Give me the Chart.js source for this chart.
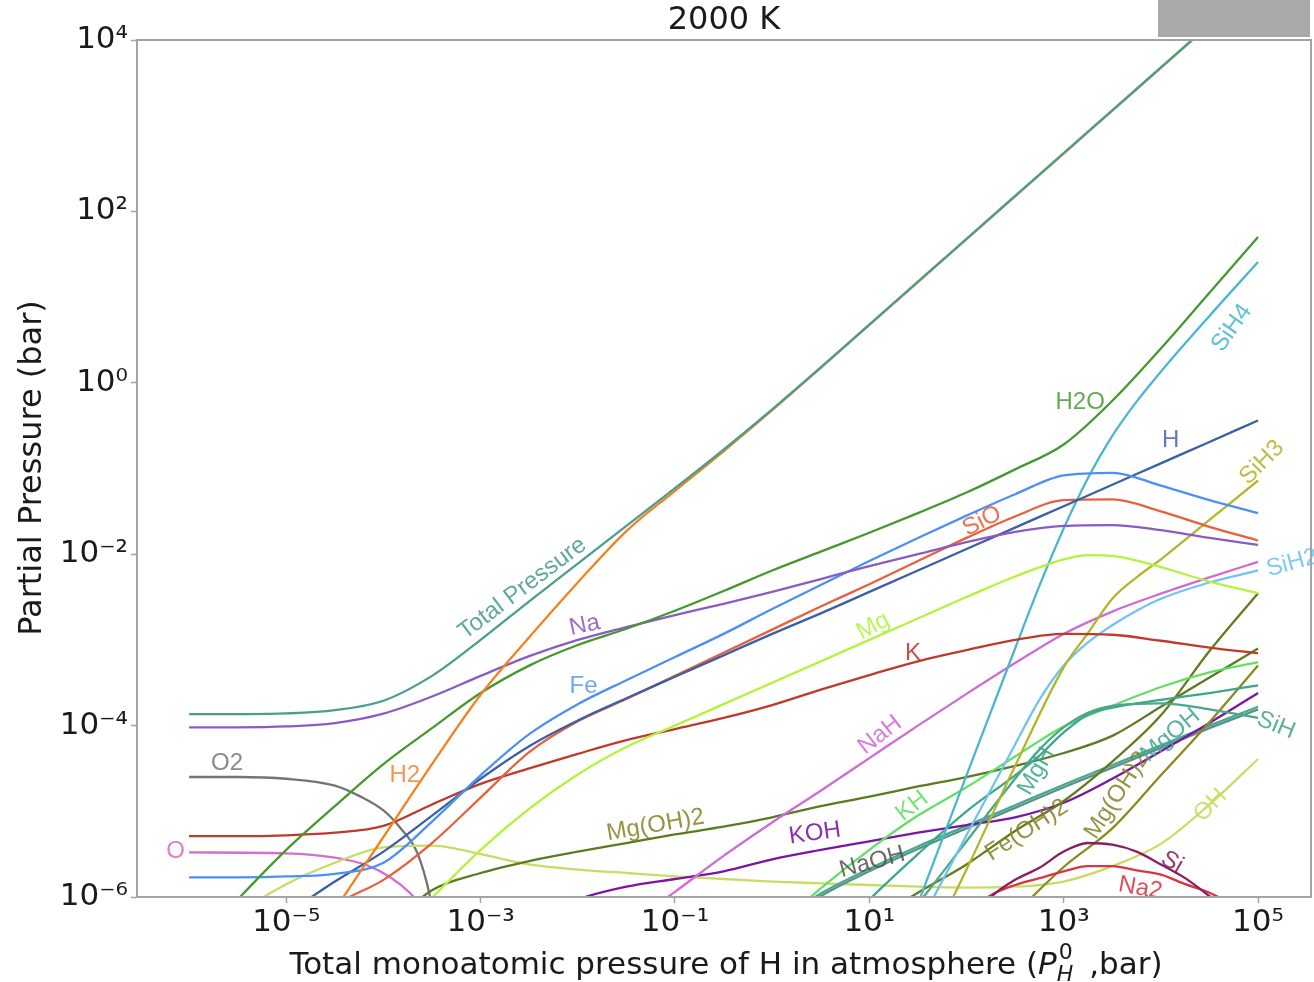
<!DOCTYPE html>
<html>
<head>
<meta charset="utf-8">
<script src="https://cdn.jsdelivr.net/npm/chart.js@4.4.1/dist/chart.umd.min.js"></script>
<style>
  html, body { margin: 0; padding: 0; background: #ffffff; }
  #wrap { width: 1314px; height: 982px; position: relative; }
</style>
</head>
<body>
<div id="wrap"><canvas id="chart" width="1314" height="982"></canvas></div>
<script>
// Gas-phase speciation at 2000 K versus the total monoatomic H pressure.
// Every point is [log10 P_H0 (bar), log10 partial pressure (bar)].
const TOTAL_P = [[-6,-3.867],[-5.5,-3.866],[-5,-3.858],[-4.5,-3.82],[-4,-3.71],[-3.5,-3.42],[-3,-3.0],[-2.5,-2.55],[-2,-2.11],[-1.5,-1.67],[-1,-1.23],[-0.5,-0.78],[0,-0.31],[0.5,0.18],[1,0.68],[1.5,1.18],[2,1.68],[2.5,2.18],[3,2.68],[3.5,3.18],[4,3.68],[4.5,4.18],[5,4.68]];
const H2 = [[-5,-7.0],[-4.5,-6.15],[-4,-5.30],[-3.5,-4.45],[-3,-3.64],[-2.5,-2.97],[-2,-2.33],[-1.5,-1.73],[-1,-1.26],[-0.5,-0.80],[0,-0.32],[0.5,0.175],[1,0.675],[1.5,1.175],[2,1.675],[2.5,2.175],[3,2.675],[3.5,3.175],[4,3.675],[4.5,4.175],[5,4.675]];
const H = [[-5,-6.2],[-4.5,-5.82],[-4,-5.47],[-3.5,-5.05],[-3,-4.62],[-2.5,-4.24],[-2,-3.94],[-1.5,-3.68],[-1,-3.43],[-0.5,-3.18],[0,-2.93],[0.5,-2.69],[1,-2.44],[1.5,-2.19],[2,-1.94],[2.5,-1.69],[3,-1.44],[3.5,-1.19],[4,-0.94],[4.5,-0.69],[5,-0.44]];
const H2O = [[-6,-6.65],[-5.5,-6.03],[-5,-5.45],[-4.5,-4.94],[-4,-4.45],[-3.5,-4.03],[-3,-3.62],[-2.5,-3.30],[-2,-3.06],[-1.5,-2.87],[-1,-2.66],[-0.5,-2.43],[0,-2.19],[0.5,-1.97],[1,-1.75],[1.5,-1.52],[2,-1.28],[2.5,-1.01],[3,-0.72],[3.5,-0.21],[4,0.40],[4.5,1.05],[5,1.70]];
const NA = [[-6,-4.02],[-5.5,-4.02],[-5,-4.01],[-4.5,-3.97],[-4,-3.86],[-3.5,-3.66],[-3,-3.42],[-2.5,-3.19],[-2,-3.00],[-1.5,-2.85],[-1,-2.71],[-0.5,-2.58],[0,-2.44],[0.5,-2.29],[1,-2.14],[1.5,-2.0],[2,-1.86],[2.5,-1.74],[3,-1.67],[3.5,-1.66],[4,-1.72],[4.5,-1.81],[5,-1.89]];
const FE = [[-6,-5.77],[-5.5,-5.77],[-5,-5.76],[-4.5,-5.73],[-4,-5.60],[-3.5,-5.12],[-3,-4.58],[-2.5,-4.10],[-2,-3.75],[-1.5,-3.47],[-1,-3.20],[-0.5,-2.93],[0,-2.64],[0.5,-2.36],[1,-2.08],[1.5,-1.81],[2,-1.55],[2.5,-1.30],[3,-1.08],[3.5,-1.05],[4,-1.20],[4.5,-1.37],[5,-1.52]];
const SIO = [[-5,-6.6],[-4.5,-6.1],[-4,-5.80],[-3.5,-5.37],[-3,-4.84],[-2.5,-4.31],[-2,-3.95],[-1.5,-3.69],[-1,-3.42],[-0.5,-3.15],[0,-2.88],[0.5,-2.61],[1,-2.35],[1.5,-2.08],[2,-1.81],[2.5,-1.56],[3,-1.37],[3.5,-1.36],[4,-1.50],[4.5,-1.68],[5,-1.84]];
const MG = [[-4,-6.6],[-3.5,-6.01],[-3,-5.45],[-2.5,-4.97],[-2,-4.57],[-1.5,-4.25],[-1,-4.0],[-0.5,-3.75],[0,-3.50],[0.5,-3.25],[1,-3.0],[1.5,-2.75],[2,-2.50],[2.5,-2.26],[3,-2.06],[3.25,-2.01],[3.5,-2.02],[4,-2.15],[4.5,-2.32],[5,-2.455]];
const K = [[-6,-5.29],[-5.5,-5.29],[-5,-5.28],[-4.5,-5.25],[-4,-5.17],[-3.5,-4.92],[-3,-4.68],[-2.5,-4.50],[-2,-4.33],[-1.5,-4.17],[-1,-4.04],[-0.5,-3.91],[0,-3.76],[0.5,-3.58],[1,-3.41],[1.5,-3.25],[2,-3.12],[2.5,-3.00],[3,-2.93],[3.5,-2.94],[4,-3.01],[4.5,-3.09],[5,-3.155]];
const O2 = [[-6,-4.60],[-5.5,-4.60],[-5,-4.62],[-4.5,-4.70],[-4.25,-4.82],[-4,-4.99],[-3.83,-5.19],[-3.65,-5.49],[-3.52,-6.0],[-3.4,-6.8]];
const O = [[-6,-5.48],[-5,-5.49],[-4.5,-5.54],[-4.17,-5.63],[-3.93,-5.77],[-3.72,-5.96],[-3.5,-6.25]];
const NAH = [[-1.5,-6.35],[-1,-5.94],[-0.5,-5.52],[0,-5.13],[0.5,-4.76],[1,-4.38],[1.5,-4.0],[2,-3.63],[2.5,-3.27],[3,-2.93],[3.5,-2.67],[4,-2.46],[4.5,-2.27],[5,-2.09]];
const SIH4 = [[1,-7.58],[1.5,-6.08],[2,-4.58],[2.5,-3.10],[2.75,-2.37],[3,-1.70],[3.25,-1.11],[3.5,-0.62],[3.75,-0.22],[4,0.13],[4.5,0.78],[5,1.41]];
const SIH3 = [[1.5,-6.85],[2,-5.68],[2.5,-4.47],[3,-3.32],[3.25,-2.92],[3.5,-2.52],[3.75,-2.27],[4,-2.06],[4.5,-1.60],[5,-1.14]];
const SIH2 = [[1.5,-6.35],[2,-5.28],[2.5,-4.22],[2.75,-3.70],[3,-3.30],[3.25,-3.03],[3.5,-2.83],[3.75,-2.66],[4,-2.52],[4.5,-2.33],[5,-2.19]];
const MGOH2_A = [[-4,-6.4],[-3.5,-5.92],[-3,-5.72],[-2.5,-5.58],[-2,-5.47],[-1.5,-5.37],[-1,-5.27],[-0.5,-5.18],[0,-5.07],[0.5,-4.94],[1,-4.83],[1.5,-4.71],[2,-4.60],[2.5,-4.47],[3,-4.32],[3.5,-4.12],[4,-3.78],[4.5,-3.44],[5,-3.10]];
const KOH = [[-2.5,-6.3],[-2,-6.03],[-1.5,-5.88],[-1,-5.79],[-0.5,-5.70],[0,-5.56],[0.5,-5.45],[1,-5.35],[1.5,-5.25],[2,-5.16],[2.5,-5.07],[3,-4.90],[3.5,-4.62],[4,-4.30],[4.5,-3.97],[5,-3.62]];
const KH = [[0,-6.40],[0.5,-5.90],[1,-5.45],[1.5,-5.05],[2,-4.72],[2.5,-4.36],[3,-4.01],[3.5,-3.77],[4,-3.55],[4.5,-3.38],[5,-3.26]];
const MGOH2_B = [[2,-6.8],[2.5,-6.2],[3,-5.65],[3.5,-5.20],[4,-4.58],[4.5,-3.96],[5,-3.30]];
const FEOH2 = [[1,-6.3],[1.5,-5.95],[2,-5.62],[2.5,-5.23],[3,-4.88],[3.5,-4.42],[4,-3.88],[4.5,-3.13],[5,-2.455]];
const OH = [[-6,-6.7],[-5.5,-6.2],[-5,-5.85],[-4.5,-5.6],[-4,-5.42],[-3.5,-5.40],[-3,-5.50],[-2.5,-5.62],[-2,-5.68],[-1.5,-5.72],[-1,-5.76],[-0.5,-5.79],[0,-5.82],[0.5,-5.84],[1,-5.86],[1.5,-5.88],[2,-5.89],[2.5,-5.88],[3,-5.82],[3.5,-5.64],[4,-5.38],[4.5,-4.92],[5,-4.39]];
const SI = [[2,-6.3],[2.25,-6.0],[2.5,-5.8],[2.75,-5.66],[3,-5.47],[3.25,-5.37],[3.5,-5.39],[3.75,-5.47],[4,-5.62],[4.25,-5.78],[4.5,-5.99],[5,-6.45]];
const NA2 = [[2,-6.2],[2.25,-5.98],[2.5,-5.86],[2.75,-5.78],[3,-5.70],[3.25,-5.64],[3.5,-5.64],[3.75,-5.69],[4,-5.74],[4.25,-5.85],[4.5,-5.95],[5,-6.25]];
const MGH = [[0.5,-6.6],[1,-6.03],[1.5,-5.50],[2,-5.0],[2.5,-4.58],[2.75,-4.35],[3,-4.08],[3.25,-3.87],[3.5,-3.79],[4,-3.70],[4.5,-3.62],[5,-3.53]];
const SIH = [[1,-6.75],[1.5,-6.08],[2,-5.35],[2.5,-4.62],[2.75,-4.28],[3,-4.02],[3.25,-3.85],[3.5,-3.77],[4,-3.74],[4.5,-3.81],[5,-3.91]];
const NAOH = [[0,-6.38],[0.5,-5.99],[1,-5.70],[1.5,-5.44],[2,-5.20],[2.5,-4.96],[3,-4.72],[3.5,-4.49],[4,-4.26],[4.5,-4.03],[5,-3.81]];
const MGOH = [[0,-6.35],[0.5,-5.96],[1,-5.67],[1.5,-5.41],[2,-5.17],[2.5,-4.93],[3,-4.69],[3.5,-4.46],[4,-4.23],[4.5,-4.0],[5,-3.78]];

// Decades that carry tick labels
const X_TICK_EXP = [-5, -3, -1, 1, 3, 5];
const Y_TICK_EXP = [-6, -4, -2, 0, 2, 4];

// Species drawn, listed from the topmost line down (Chart.js paints index 0 last)
const SPECIES = [
  { name: 'Total Pressure', data: TOTAL_P, color: '#4a9e8c' },
  { name: 'H2', data: H2, color: '#f2821f' },
  { name: 'H2O', data: H2O, color: '#44992d' },
  { name: 'Na', data: NA, color: '#8a5cc2' },
  { name: 'Fe', data: FE, color: '#4d8ff5' },
  { name: 'H', data: H, color: '#3b5fa6' },
  { name: 'SiO', data: SIO, color: '#e8603e' },
  { name: 'Mg', data: MG, color: '#b2f43c' },
  { name: 'K', data: K, color: '#c0392b' },
  { name: 'SiH4', data: SIH4, color: '#4bb6d0' },
  { name: 'SiH3', data: SIH3, color: '#b4b52b' },
  { name: 'SiH2', data: SIH2, color: '#70c4ee' },
  { name: 'NaH', data: NAH, color: '#cf6ad6' },
  { name: 'Si', data: SI, color: '#8b1e62' },
  { name: 'Na2', data: NA2, color: '#da3443' },
  { name: 'SiH', data: SIH, color: '#4aa888' },
  { name: 'MgH', data: MGH, color: '#3ea68b' },
  { name: 'KH', data: KH, color: '#62e064' },
  { name: 'Fe(OH)2', data: FEOH2, color: '#667a1c' },
  { name: 'Mg(OH)2 ', data: MGOH2_B, color: '#8c8a1c' },
  { name: 'Mg(OH)2', data: MGOH2_A, color: '#5a7b1f' },
  { name: 'KOH', data: KOH, color: '#7a14a6' },
  { name: 'MgOH', data: MGOH, color: '#44a98e' },
  { name: 'NaOH', data: NAOH, color: '#5d8f8a' },
  { name: 'OH', data: OH, color: '#c8dc62' },
  { name: 'O', data: O, color: '#d66fcb' },
  { name: 'O2', data: O2, color: '#747474' }
];

// In-line species labels: anchor in data space (log10 x, log10 y) and text angle in degrees
const LABELS = [
  { text: 'Total Pressure', at: [-2.57, -2.40], rot: -37, color: '#4a9e8c' },
  { text: 'Na', at: [-1.93, -2.83], rot: -12, color: '#8a5cc2' },
  { text: 'Fe', at: [-1.94, -3.54], rot: 0, color: '#5d98f5' },
  { text: 'H2', at: [-3.78, -4.58], rot: 0, color: '#ee8a3a' },
  { text: 'O2', at: [-5.61, -4.44], rot: 0, color: '#7a7a7a' },
  { text: 'O', at: [-6.14, -5.47], rot: 0, color: '#d66fcb' },
  { text: 'SiO', at: [2.16, -1.615], rot: -27, color: '#e8603e' },
  { text: 'H2O', at: [3.17, -0.225], rot: 0, color: '#4f9e38' },
  { text: 'H', at: [4.10, -0.67], rot: 0, color: '#4a6aae' },
  { text: 'SiH4', at: [4.73, 0.64], rot: -55, color: '#4bb6d0' },
  { text: 'SiH3', at: [5.04, -0.93], rot: -45, color: '#b4b52b' },
  { text: 'SiH2', at: [5.35, -2.105], rot: -15, color: '#70c4ee' },
  { text: 'Mg', at: [1.04, -2.84], rot: -28, color: '#b2f43c' },
  { text: 'K', at: [1.45, -3.155], rot: 0, color: '#c0392b' },
  { text: 'NaH', at: [1.11, -4.11], rot: -38, color: '#cf6ad6' },
  { text: 'Mg(OH)2', at: [-1.20, -5.163], rot: -10, color: '#86852a' },
  { text: 'KOH', at: [0.44, -5.257], rot: -8, color: '#7a14a6' },
  { text: 'NaOH', at: [1.03, -5.595], rot: -15, color: '#555555' },
  { text: 'KH', at: [1.44, -4.94], rot: -38, color: '#62e064' },
  { text: 'MgH', at: [2.72, -4.533], rot: -60, color: '#3ea68b' },
  { text: 'Fe(OH)2', at: [2.62, -5.22], rot: -33, color: '#86852a' },
  { text: 'Mg(OH)2', at: [3.55, -4.813], rot: -57, color: '#86852a' },
  { text: 'MgOH', at: [4.10, -4.113], rot: -40, color: '#44a98e' },
  { text: 'SiH', at: [5.185, -3.996], rot: 22, color: '#4aa888' },
  { text: 'OH', at: [4.51, -4.93], rot: -45, color: '#c8dc62' },
  { text: 'Si', at: [4.115, -5.595], rot: 30, color: '#8b1e62' },
  { text: 'Na2', at: [3.79, -5.898], rot: 10, color: '#da3443' }
];

const SUP = { '-': '\u207B', '0': '\u2070', '1': '\u00B9', '2': '\u00B2', '3': '\u00B3', '4': '\u2074', '5': '\u2075', '6': '\u2076', '7': '\u2077', '8': '\u2078', '9': '\u2079' };
const powLabel = v => '10' + String(Math.round(Math.log10(v))).split('').map(c => SUP[c]).join('');
const toPoints = arr => arr.map(([lx, ly]) => ({ x: Math.pow(10, lx), y: Math.pow(10, ly) }));

const AXIS_GREY = '#a4a4a4';
const TEXT = '#1a1a1a';
const FONT_MAIN = '"DejaVu Sans", sans-serif';
const FONT_LABEL = '"Liberation Sans", Arial, sans-serif';

// Frame, titles and the grey block above the top-right corner
const framePlugin = {
  id: 'frame',
  afterDraw(chart) {
    const { ctx, chartArea: a } = chart;
    ctx.save();
    ctx.fillStyle = '#a9a9a9';
    ctx.fillRect(a.right - 153, 0, 152, a.top - 3);
    ctx.strokeStyle = AXIS_GREY;
    ctx.lineWidth = 2;
    ctx.strokeRect(a.left, a.top, a.right - a.left, a.bottom - a.top);

    ctx.fillStyle = TEXT;
    ctx.textAlign = 'center';
    ctx.textBaseline = 'middle';
    ctx.font = '32px ' + FONT_MAIN;
    ctx.fillText('2000 K', (a.left + a.right) / 2, 21);

    ctx.save();
    ctx.translate(33, 468);
    ctx.rotate(-Math.PI / 2);
    ctx.fillText('Partial Pressure (bar)', 0, 0);
    ctx.restore();

    // x title with P_H^0
    const part1 = 'Total monoatomic pressure of H in atmosphere (';
    const part3 = ' ,bar)';
    const big = '31px ' + FONT_MAIN, bigIt = 'italic 31px ' + FONT_MAIN;
    const small = '22px ' + FONT_MAIN, smallIt = 'italic 22px ' + FONT_MAIN;
    ctx.font = big; const w1 = ctx.measureText(part1).width; const w3 = ctx.measureText(part3).width;
    ctx.font = bigIt; const wP = ctx.measureText('P').width;
    ctx.font = small; const w0 = ctx.measureText('0').width;
    ctx.font = smallIt; const wH = ctx.measureText('H').width;
    const wS = Math.max(w0, wH) + 4;
    const total = w1 + wP + wS + w3;
    let xx = 725 - total / 2;
    const base = 974;
    ctx.textAlign = 'left';
    ctx.textBaseline = 'alphabetic';
    ctx.font = big; ctx.fillText(part1, xx, base); xx += w1;
    ctx.font = bigIt; ctx.fillText('P', xx, base); xx += wP + 2;
    ctx.font = small; ctx.fillText('0', xx, base - 15);
    ctx.font = smallIt; ctx.fillText('H', xx - 2, base + 7); xx += wS;
    ctx.font = big; ctx.fillText(part3, xx, base);
    ctx.restore();
  }
};

const labelPlugin = {
  id: 'speciesLabels',
  afterDatasetsDraw(chart) {
    const { ctx, scales: { x, y } } = chart;
    ctx.save();
    ctx.font = '24px ' + FONT_LABEL;
    ctx.textAlign = 'center';
    ctx.textBaseline = 'middle';
    ctx.globalAlpha = 0.88;
    for (const L of LABELS) {
      const px = x.getPixelForValue(Math.pow(10, L.at[0]));
      const py = y.getPixelForValue(Math.pow(10, L.at[1]));
      ctx.save();
      ctx.translate(px, py);
      ctx.rotate(L.rot * Math.PI / 180);
      ctx.fillStyle = L.color;
      ctx.fillText(L.text, 0, 0);
      ctx.restore();
    }
    ctx.restore();
  }
};

new Chart(document.getElementById('chart'), {
  type: 'scatter',
  data: {
    datasets: SPECIES.map(s => ({
      label: s.name,
      data: toPoints(s.data),
      showLine: true,
      borderColor: s.color,
      backgroundColor: s.color,
      borderWidth: 2.3,
      pointRadius: 0,
      pointHoverRadius: 0,
      fill: false,
      cubicInterpolationMode: 'monotone'
    }))
  },
  options: {
    responsive: false,
    animation: false,
    devicePixelRatio: 1,
    layout: { padding: { top: 40, right: 3, left: 0, bottom: 0 } },
    plugins: { legend: { display: false }, tooltip: { enabled: false }, title: { display: false } },
    scales: {
      x: {
        type: 'logarithmic',
        position: 'bottom',
        bounds: 'data',
        min: Math.pow(10, -6.536),
        max: Math.pow(10, 5.545),
        afterBuildTicks: s => { s.ticks = X_TICK_EXP.map(e => ({ value: Math.pow(10, e) })); },
        afterFit: s => { s.height = 85; },
        ticks: { autoSkip: false, maxRotation: 0, minRotation: 0, padding: 1, color: TEXT, font: { family: 'DejaVu Sans', size: 31 }, callback: v => powLabel(v) },
        grid: { display: true, drawOnChartArea: false, drawTicks: true, tickLength: 6, tickColor: AXIS_GREY, tickWidth: 1.5 },
        border: { display: false }
      },
      y: {
        type: 'logarithmic',
        position: 'left',
        bounds: 'data',
        min: 1e-6,
        max: 1e4,
        afterBuildTicks: s => { s.ticks = Y_TICK_EXP.map(e => ({ value: Math.pow(10, e) })); },
        afterFit: s => { s.width = 137; },
        ticks: { autoSkip: false, padding: 3, color: TEXT, font: { family: 'DejaVu Sans', size: 31 }, callback: v => powLabel(v) },
        grid: { display: true, drawOnChartArea: false, drawTicks: true, tickLength: 6, tickColor: AXIS_GREY, tickWidth: 1.5 },
        border: { display: false }
      }
    }
  },
  plugins: [labelPlugin, framePlugin]
});
</script>
</body>
</html>
